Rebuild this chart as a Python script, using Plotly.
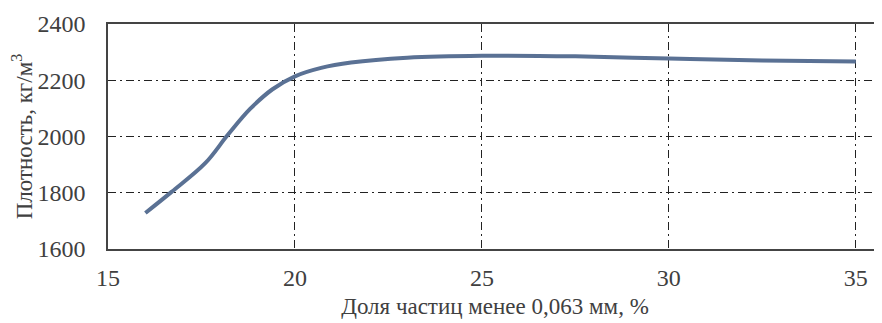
import plotly.graph_objects as go

fraction = [16.0, 16.7, 17.6, 18.2, 18.8, 19.4, 20.0, 20.7, 21.5, 23.0, 25.0, 27.5, 30.0, 32.5, 35.0]
density = [1728, 1803, 1905, 2005, 2098, 2168, 2214, 2244, 2263, 2280, 2287, 2285, 2277, 2270, 2267]

x_ticks = [15, 20, 25, 30, 35]
y_ticks = [1600, 1800, 2000, 2200, 2400]

fig = go.Figure()
fig.add_trace(go.Scatter(
    x=fraction, y=density, mode="lines",
    line=dict(color="#5a7194", width=4, shape="spline", smoothing=1.0),
    hoverinfo="skip", showlegend=False,
))

font = dict(family="Liberation Serif, Times New Roman, serif", size=24, color="#404040")

# the page body has an 8px default margin, so the figure is sized to fit the 882x323 window
fig.update_layout(
    width=874, height=315,
    margin=dict(l=100, r=0, t=16, b=74),
    paper_bgcolor="white", plot_bgcolor="white",
    font=font,
    xaxis=dict(
        range=[15, 35.7], tickmode="array", tickvals=x_ticks,
        ticktext=[str(v) for v in x_ticks],
        showgrid=True, gridcolor="#222222", gridwidth=1.3, griddash="8px,4px,2px,4px",
        showline=True, linecolor="#444444", linewidth=1.5, mirror=True,
        zeroline=False, ticks="", ticklabelstandoff=6, automargin=False,
        title=dict(text="Доля частиц менее 0,063 мм, %", font=dict(size=23), standoff=8),
    ),
    yaxis=dict(
        range=[1600, 2400], tickmode="array", tickvals=y_ticks,
        ticktext=[str(v) for v in y_ticks],
        showgrid=True, gridcolor="#222222", gridwidth=1.3, griddash="8px,4px,2px,4px",
        showline=True, linecolor="#444444", linewidth=1.5,
        zeroline=False, ticks="", ticklabelstandoff=16, automargin=False,
        title=dict(text="Плотность, кг/м<sup>3</sup>", font=dict(size=23), standoff=4),
    ),
)

fig.write_html("out.html")
